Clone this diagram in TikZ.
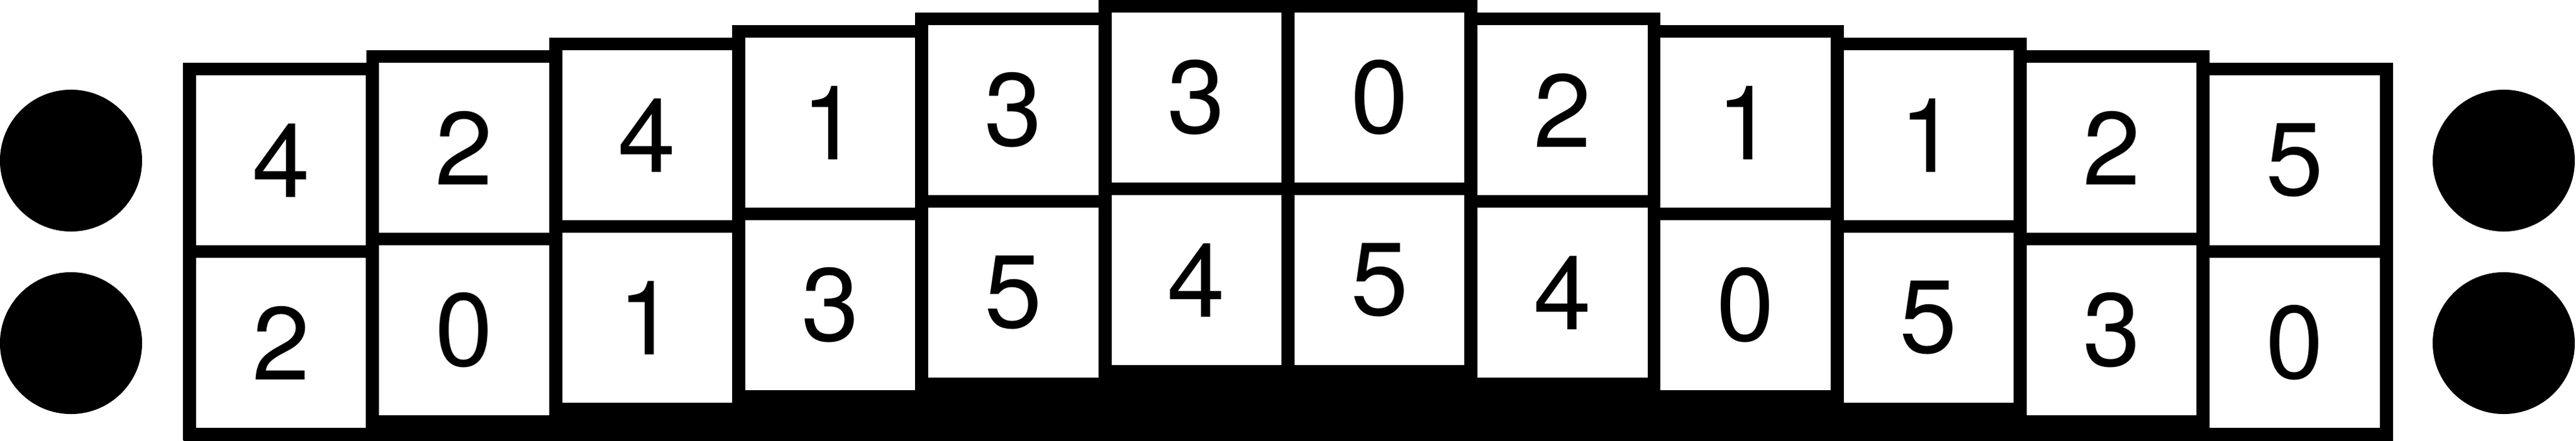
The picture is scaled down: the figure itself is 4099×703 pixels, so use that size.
\documentclass[tikz,border=0pt]{standalone}
\usepackage{fontspec}
\setmainfont{TeX Gyre Heros}

\begin{document}
\begin{tikzpicture}[x=0.01cm, y=0.01cm, cell/.style={draw, line width=5.9pt,
		fill=white, minimum size=2.91cm, inner sep=0pt,
		font=\fontsize{47}{50}\selectfont},
		dot/.style={circle, fill=black, minimum size=2.26cm, inner sep=0pt}]
	\useasboundingbox (0,0) rectangle (4099,703);
	\fill (291.5,0) rectangle (3807.5,150);
	\node[dot] (l1) at (113,447) {};
	\node[dot] (l2) at (113,156) {};
	\node[dot] (r1) at (3984,447) {};
	\node[dot] (r2) at (3984,156) {};
	\node[cell] (t1) at (447.2,447.5) {4};
	\node[cell] (b1) at (447.2,156.5) {2};
	\node[cell] (t2) at (738.5,467.5) {2};
	\node[cell] (b2) at (738.5,176.5) {0};
	\node[cell] (t3) at (1029.8,487.5) {4};
	\node[cell] (b3) at (1029.8,196.5) {1};
	\node[cell] (t4) at (1321.1,507.5) {1};
	\node[cell] (b4) at (1321.1,216.5) {3};
	\node[cell] (t5) at (1612.4,527.5) {3};
	\node[cell] (b5) at (1612.4,236.5) {5};
	\node[cell] (t6) at (1903.7,547.5) {3};
	\node[cell] (b6) at (1903.7,256.5) {4};
	\node[cell] (t7) at (2195.0,547.5) {0};
	\node[cell] (b7) at (2195.0,256.5) {5};
	\node[cell] (t8) at (2486.3,527.5) {2};
	\node[cell] (b8) at (2486.3,236.5) {4};
	\node[cell] (t9) at (2777.6,507.5) {1};
	\node[cell] (b9) at (2777.6,216.5) {0};
	\node[cell] (t10) at (3068.9,487.5) {1};
	\node[cell] (b10) at (3068.9,196.5) {5};
	\node[cell] (t11) at (3360.2,467.5) {2};
	\node[cell] (b11) at (3360.2,176.5) {3};
	\node[cell] (t12) at (3651.5,447.5) {5};
	\node[cell] (b12) at (3651.5,156.5) {0};
\end{tikzpicture}
\end{document}
